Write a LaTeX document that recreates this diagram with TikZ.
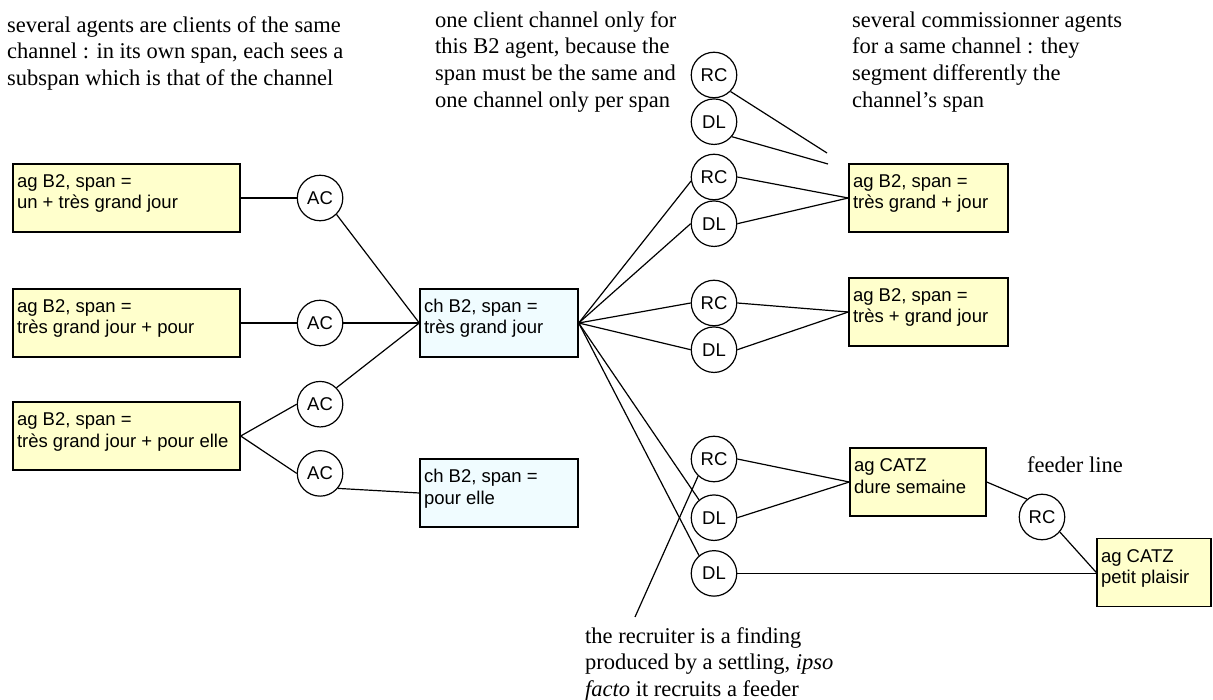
\documentclass[tikz,border=0pt]{standalone}
\usepackage{fontspec}
\setmainfont{Liberation Serif}
\newfontfamily\boxfont{Liberation Sans}
\usetikzlibrary{positioning}

\definecolor{agfill}{HTML}{FFFFCC}
\definecolor{chfill}{HTML}{F0FCFF}
% text of a box, set at its top left
\newcommand{\cell}[2]{\parbox[c][68pt][t]{#1}{\raggedright\rule{0pt}{23.5pt}#2}}

\begin{document}
\begin{tikzpicture}[
    x=1pt, y=-1pt,
    font=\fontsize{22.5}{26.7}\selectfont,
    agbox/.style={draw, line width=1.4pt, fill=agfill, inner xsep=4pt, inner ysep=0pt,
                  font=\boxfont\fontsize{18.5}{21.5}\selectfont},
    chbox/.style={agbox, fill=chfill},
    role/.style={draw, circle, line width=1.2pt, fill=white, minimum size=45.5pt,
                 inner sep=0pt, font=\boxfont\fontsize{18.5}{21.5}\selectfont},
    note/.style={anchor=north west, align=left, inner sep=0pt},
    wire/.style={line width=1.2pt},
  ]
    \useasboundingbox (0,0) rectangle (1213,700);

    % Comments
    \node[note] (noteA) at (7,14)
        {\rule{0pt}{18pt}several agents are clients of the same\\
         channel : in its own span, each sees a\\
         subspan which is that of the channel};
    \node[note] (noteB) at (435,9)
        {\rule{0pt}{18pt}one client channel only for\\
         this B2 agent, because the\\
         span must be the same and\\
         one channel only per span};
    \node[note] (noteC) at (852,9)
        {\rule{0pt}{18pt}several commissionner agents\\
         for a same channel : they\\
         segment differently the\\
         channel’s span};
    \node[note] (noteD) at (585,625)
        {\rule{0pt}{18pt}the recruiter is a finding\\
         produced by a settling, \textit{ipso}\\
         \textit{facto} it recruits a feeder};
    \node[note] (noteE) at (1027,454) {\rule{0pt}{18pt}feeder line};

    % Client agents (left)
    \node[agbox] (agA) at (126.5,198) {\cell{219pt}{ag B2, span =\\un + très grand jour}};
    \node[agbox] (agB) at (126.5,323) {\cell{219pt}{ag B2, span =\\très grand jour + pour}};
    \node[agbox] (agC) at (126.5,436) {\cell{219pt}{ag B2, span =\\très grand jour + pour elle}};

    % Channels
    \node[chbox] (ch1) at (499,323) {\cell{150pt}{ch B2, span =\\très grand jour}};
    \node[chbox] (ch2) at (499,493) {\cell{150pt}{ch B2, span =\\pour elle}};

    % Commissioner agents (right)
    \node[agbox] (agD) at (928.5,198) {\cell{151pt}{ag B2, span =\\très grand + jour}};
    \node[agbox] (agE) at (928.5,312) {\cell{151pt}{ag B2, span =\\très + grand jour}};
    \node[agbox] (agF) at (918,482) {\cell{128pt}{ag CATZ\\dure semaine}};
    \node[agbox] (agG) at (1154,572.5) {\cell{106pt}{ag CATZ\\petit plaisir}};

    % AC roles
    \node[role, right=56pt of agA] (ac1) {AC};
    \node[role, right=56pt of agB] (ac2) {AC};
    \node[role, below=34.5pt of ac2] (ac3) {AC};
    \node[role, below=22.5pt of ac3] (ac4) {AC};

    % RC / DL roles
    \node[role] (rc0) at (714,75) {RC};
    \node[role, below=0pt of rc0] (dl0) {DL};
    \node[role] (rc1) at (714,177) {RC};
    \node[role, below=0pt of rc1] (dl1) {DL};
    \node[role] (rc2) at (714,303) {RC};
    \node[role, below=0pt of rc2] (dl2) {DL};
    \node[role] (rc3) at (714,459) {RC};
    \node[role, below=12pt of rc3] (dl3) {DL};
    \node[role, below=9pt of dl3] (dl4) {DL};
    \node[role] (rcf) at (1042,517) {RC};

    \coordinate (endA) at (827,153);
    \coordinate (endB) at (828,164);
    \coordinate (tail) at (635,617);

    % Links
    \draw[wire] (agA) -- (ac1);
    \draw[wire] (ac1.-45) -- (ch1.west);
    \draw[wire] (agB) -- (ac2);
    \draw[wire] (ac2) -- (ch1.west);
    \draw[wire] (agC.east) -- (ac3.west);
    \draw[wire] (agC.east) -- (ac4.west);
    \draw[wire] (ac3.45) -- (ch1.west);
    \draw[wire] (ac4.-40) -- (ch2.west);

    \draw[wire] (rc0.-45) -- (endA);
    \draw[wire] (dl0.-40) -- (endB);

    \draw[wire] (ch1.east) -- (rc1.190);
    \draw[wire] (ch1.east) -- (dl1.west);
    \draw[wire] (ch1.east) -- (rc2.west);
    \draw[wire] (ch1.east) -- (dl2.west);
    \draw[wire] (ch1.east) -- (dl3.130);
    \draw[wire] (ch1.east) -- (dl4.130);

    \draw[wire] (rc1.east) -- (agD.west);
    \draw[wire] (dl1.east) -- (agD.west);
    \draw[wire] (rc2.east) -- (agE.west);
    \draw[wire] (dl2.east) -- (agE.west);
    \draw[wire] (rc3.east) -- (agF.west);
    \draw[wire] (dl3.east) -- (agF.west);

    \draw[wire] (agF.east) -- (rcf.130);
    \draw[wire] (rcf.-40) -- (agG.west);
    \draw[wire] (dl4.east) -- (dl4 -| agG.west);

    \draw[wire] (tail) -- (rc3.227);
\end{tikzpicture}
\end{document}
